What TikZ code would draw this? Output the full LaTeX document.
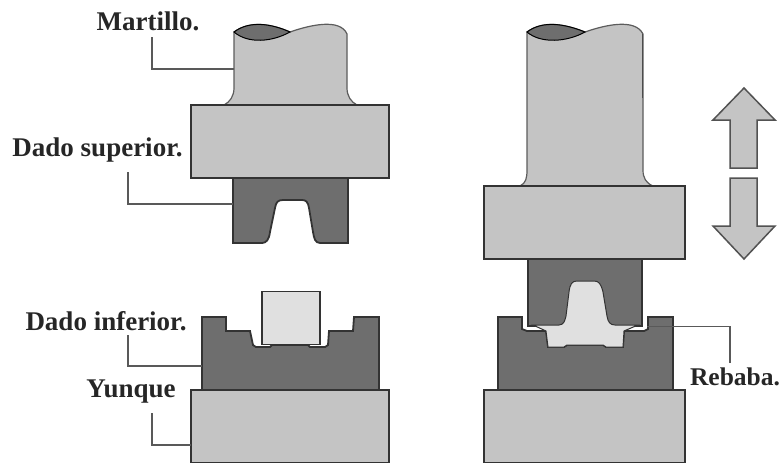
\documentclass[tikz,border=0pt]{standalone}
\usepackage{fontspec}
\setmainfont{Liberation Serif}
\definecolor{grisclaro}{HTML}{C4C4C4}
\definecolor{grisoscuro}{HTML}{6E6E6E}
\definecolor{grispieza}{HTML}{E0E0E0}
\definecolor{borde}{HTML}{333333}
\tikzset{
  etiqueta/.style={inner sep=0pt, font=\bfseries\fontsize{27}{29}\selectfont, text=black!85},
  bloque/.style={draw=borde, line width=1.8pt, fill=grisclaro, inner sep=0pt, minimum width=198pt, minimum height=73pt},
  vastago/.style={draw=borde!80, line width=1.2pt, fill=grisclaro},
  dado/.style={draw=borde, line width=1.8pt, fill=grisoscuro},
  pieza/.style={draw=borde, line width=1.5pt, fill=grispieza},
  flecha/.style={draw=borde!85, line width=1.5pt, fill=grisclaro, line join=miter},
  guia/.style={draw=black!65, line width=1.2pt}
}

\begin{document}
\begin{tikzpicture}[x=1pt, y=-1pt]
  \useasboundingbox (0,0) rectangle (782,463);

  % left side
  \path[vastago] (234,32) .. controls (250,20) and (272,24) .. (290,32)
    .. controls (310,25) and (340,18) .. (347,34) -- (347,88)
    .. controls (347,96) and (351,102) .. (357,105) -- (224,105)
    .. controls (230,102) and (234,96) .. (234,88) -- cycle;
  \path[draw=black, line width=1pt, fill=grisoscuro] (234,32) .. controls (250,20) and (272,24) .. (290,32)
    .. controls (272,42) and (248,44) .. (234,32) -- cycle;
  \path[dado] (233,178) -- (348,178) -- (348,243) -- (320,243)
    .. controls (315,243) and (314,238) .. (313,232) -- (309,208)
    .. controls (308,202) and (306,200) .. (302,200) -- (283,200)
    .. controls (278,200) and (276,202) .. (275,208) -- (270,232)
    .. controls (269,240) and (266,243) .. (262,243) -- (233,243) -- cycle;
  \node[bloque] (bloqueA) at (290,141.5) {};
  \path[dado] (202,317) -- (226,317) -- (226,331) -- (250,331) -- (253,345) -- (256,347)
    -- (270,347) -- (272,345) -- (308,345) -- (310,347) -- (325,347) -- (328,345) -- (329,331)
    -- (353,331) -- (354,317) -- (379,317) -- (379,390) -- (202,390) -- cycle;
  \node[pieza, inner sep=0pt, minimum width=58pt, minimum height=53pt] (piezaA) at (291,318) {};
  \node[bloque] (yunqueA) at (290,426.5) {};

  % right side
  \path[vastago] (527,32) .. controls (543,20) and (565,24) .. (585,32)
    .. controls (605,25) and (635,18) .. (643,34) -- (643,170)
    .. controls (643,178) and (646,183) .. (653,186) -- (520,186)
    .. controls (526,183) and (527,178) .. (527,170) -- cycle;
  \path[draw=black, line width=1pt, fill=grisoscuro] (527,32) .. controls (543,20) and (565,24) .. (585,32)
    .. controls (567,42) and (541,44) .. (527,32) -- cycle;
  \draw[black!70, line width=1.6pt] (642.5,34) -- (642.5,98);
  \path[dado] (528,259) -- (642,259) -- (642,326) -- (528,326) -- cycle;
  \node[bloque, minimum width=201pt] (bloqueB) at (584.5,222.5) {};
  \path[dado] (498,317) -- (522,317) -- (522,329) -- (527,331) -- (546,331) -- (548,347)
    -- (564,347) -- (567,345) -- (603,345) -- (606,347) -- (623,347) -- (624,331)
    -- (644,331) -- (648,329) -- (648,317) -- (673,317) -- (673,390) -- (498,390) -- cycle;
  \path[pieza, line width=1pt] (533,325) -- (559,325)
    .. controls (564,325) and (565,320) .. (566,316) -- (569,292)
    .. controls (570,284) and (572,281) .. (577,281) -- (594,281)
    .. controls (599,281) and (601,284) .. (603,292) -- (607,316)
    .. controls (608,322) and (610,325) .. (615,325) -- (638,325) -- (624,331) -- (623,347)
    -- (606,347) -- (603,345) -- (567,345) -- (564,347) -- (548,347) -- (546,331) -- cycle;
  \node[bloque, minimum width=201pt] (yunqueB) at (584.5,426.5) {};

  % arrows
  \path[flecha] (744,88) -- (775,120) -- (757,120) -- (757,168) -- (730,168) -- (730,120) -- (713,120) -- cycle;
  \path[flecha] (730,178) -- (757,178) -- (757,226) -- (775,226) -- (744,259) -- (713,226) -- (730,226) -- cycle;

  % labels
  \node[etiqueta] (martillo) at (148,21) {Martillo.};
  \node[etiqueta] (superior) at (97.5,150) {Dado superior.};
  \node[etiqueta] (inferior) at (106,321) {Dado inferior.};
  \node[etiqueta] (yunque) at (131,392) {Yunque};
  \node[etiqueta, font=\bfseries\fontsize{25.5}{28}\selectfont] (rebaba) at (735,377) {Rebaba.};

  \coordinate (a1) at (152,37);
  \coordinate (a2) at (234,69);
  \coordinate (b1) at (128,172);
  \coordinate (b2) at (233,204);
  \coordinate (c1) at (128,335);
  \coordinate (c2) at (202,366);
  \coordinate (d1) at (152,413);
  \coordinate (d2) at (191,445);
  \coordinate (e1) at (730,363);
  \coordinate (e2) at (647,326.5);

  \draw[guia] (a1) |- (a2);
  \draw[guia] (b1) |- (b2);
  \draw[guia] (c1) |- (c2);
  \draw[guia] (d1) |- (d2);
  \draw[guia] (e1) |- (e2);
\end{tikzpicture}
\end{document}
